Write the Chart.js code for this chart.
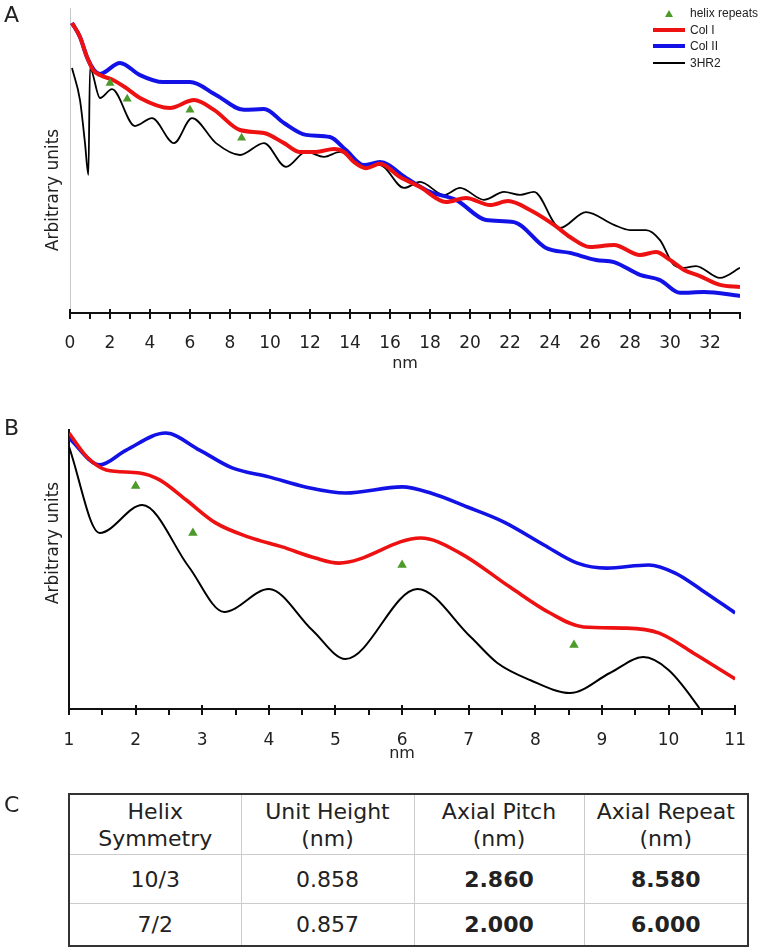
<!DOCTYPE html>
<html>
<head>
<meta charset="utf-8">
<script src="https://cdn.jsdelivr.net/npm/chart.js@4.4.1/dist/chart.umd.min.js"></script>
<style>
  body { margin: 0; background: #fff; }
  #page { position: relative; width: 759px; height: 950px; font-family: "DejaVu Sans", sans-serif; color: #222; }
  canvas { position: absolute; left: 0; }
  .panel { position: absolute; left: 4px; font-size: 22px; line-height: 22px; }
  #legendA { position: absolute; left: 653px; top: 5px; font-family: "Liberation Sans", Arial, sans-serif; font-size: 12px; }
  #legendA .row { display: flex; align-items: center; height: 16.5px; }
  #legendA .sample { width: 32px; margin-right: 5px; display: flex; justify-content: center; align-items: center; }
  #tbl { position: absolute; left: 68px; top: 793px; width: 679px; table-layout: fixed; border-collapse: collapse; border: 2px solid #333; font-size: 22px; }
  #tbl td { border: 1px solid #ccc; text-align: center; vertical-align: middle; padding: 0; line-height: 27px; }
  #tbl tr:first-child td { height: 59px; }
  #tbl tr:nth-child(2) td { height: 48px; }
  #tbl tr:nth-child(3) td { height: 41px; }
  #tbl .b { font-weight: bold; }
</style>
</head>
<body>
<div id="page">
  <canvas id="chartA" width="759" height="385" style="top:0"></canvas>
  <canvas id="chartB" width="759" height="385" style="top:385px"></canvas>
  <div class="panel" style="top:4px">A</div>
  <div class="panel" style="top:417px">B</div>
  <div class="panel" style="top:794px">C</div>
  <div id="legendA"></div>
  <table id="tbl"></table>
</div>
<script>
// helix repeat positions (nm)
const helixNm = [2.0, 2.86, 6.0, 8.58];
const helixValA = [75.4, 70.2, 66.6, 57.4];
const helixValB = [79.9, 63.1, 51.6, 22.9];

// panel A, 0 - 33.5 nm
const colINmA = [0.1, 0.5, 0.85, 1.15, 1.5, 2.15, 2.8, 3.5, 5.0, 6.2, 7.2, 8.5, 9.7, 10.7, 11.5, 12.3, 13.2, 13.7, 14.2, 14.8, 15.5, 16.5, 17.5, 18.8, 19.8, 21.0, 21.9, 23.0, 24.2, 25.0, 26.0, 27.2, 28.5, 29.3, 30.0, 30.7, 31.5, 32.5, 33.5];
const colIValA = [95.1, 90.5, 83.9, 79.7, 78.0, 76.4, 73.8, 70.5, 67.2, 69.8, 66.6, 60.0, 59.0, 55.7, 52.8, 52.8, 53.8, 52.8, 49.5, 47.5, 48.9, 44.6, 41.3, 36.4, 37.7, 35.4, 36.7, 33.8, 28.9, 24.9, 21.6, 22.3, 19.0, 20.0, 17.4, 14.1, 12.1, 9.2, 8.5];

const colIINmA = [0.1, 0.5, 0.85, 1.2, 1.5, 2.5, 3.5, 4.65, 6.0, 7.3, 8.7, 9.7, 10.7, 11.8, 13.0, 13.8, 14.7, 15.5, 16.8, 18.0, 19.3, 20.8, 22.2, 23.8, 25.0, 26.3, 27.2, 28.5, 29.5, 30.5, 31.7, 33.5];
const colIIValA = [95.1, 90.5, 83.9, 79.7, 78.4, 82.0, 78.0, 75.7, 75.7, 71.5, 66.6, 66.9, 62.3, 58.4, 57.7, 53.4, 48.5, 49.5, 44.3, 39.7, 37.1, 30.5, 29.8, 21.3, 19.7, 17.4, 16.7, 12.5, 10.8, 6.6, 6.9, 5.6];

const hr2NmA = [0.1, 0.5, 0.75, 0.92, 1.0, 1.5, 2.1, 3.25, 4.1, 5.2, 6.1, 7.3, 8.5, 9.7, 10.8, 11.8, 12.7, 13.5, 14.7, 15.5, 16.7, 17.5, 18.7, 19.5, 20.7, 21.7, 22.5, 23.2, 24.5, 25.8, 27.2, 28.0, 28.8, 29.5, 30.2, 30.7, 31.3, 32.5, 33.5];
const hr2ValA = [80.3, 69.8, 55.7, 45.3, 80.3, 70.5, 73.4, 61.3, 63.9, 55.7, 63.9, 55.7, 51.8, 55.7, 47.9, 52.8, 51.2, 52.8, 48.5, 48.5, 41.0, 43.0, 38.7, 41.0, 37.1, 39.7, 38.7, 39.7, 27.9, 33.1, 28.9, 27.2, 27.2, 23.9, 15.7, 14.8, 15.4, 11.5, 14.8];

// panel B, 1 - 11 nm
const colINmB = [1.0, 1.27, 1.56, 2.06, 2.36, 2.76, 3.2, 3.7, 4.2, 4.7, 5.05, 6.28, 6.87, 7.62, 8.22, 8.72, 9.37, 9.86, 10.37, 11.0];
const colIValB = [98.9, 90.3, 85.7, 84.6, 82.1, 74.9, 66.7, 61.6, 58.1, 54.1, 52.3, 61.3, 55.9, 43.7, 34.4, 29.4, 29.0, 27.2, 20.1, 10.8];

const colIINmB = [1.0, 1.46, 1.86, 2.45, 2.96, 3.45, 4.0, 4.55, 5.15, 6.0, 6.43, 6.98, 7.53, 8.13, 8.63, 9.07, 9.7, 10.1, 10.5, 11.0];
const colIIValB = [97.1, 87.5, 92.8, 98.9, 92.8, 86.4, 83.2, 79.6, 77.4, 79.6, 77.4, 72.4, 67.0, 58.8, 52.3, 50.5, 51.6, 48.7, 42.6, 34.4];

const hr2NmB = [1.0, 1.46, 2.1, 2.8, 3.33, 4.0, 4.65, 5.15, 6.23, 7.03, 7.43, 7.92, 8.52, 9.12, 9.62, 10.0, 10.45, 10.6];
const hr2ValB = [94.0, 63.1, 73.1, 50.9, 34.8, 43.0, 28.3, 17.9, 43.0, 25.8, 16.5, 10.4, 5.7, 12.9, 18.6, 14.0, 0.7, -5.0];

// panel C
const tableHead = ['Helix<br>Symmetry', 'Unit Height<br>(nm)', 'Axial Pitch<br>(nm)', 'Axial Repeat<br>(nm)'];
const tableRows = [
    ['10/3', '0.858', '2.860', '8.580'],
    ['7/2', '0.857', '2.000', '6.000']
];
const tableColW = [172, 173, 170, 164];

const RED = '#ee1111', BLUE = '#1212e6', BLACK = '#000000', GREEN = '#4c9a2a';

Chart.defaults.font.family = '"DejaVu Sans", sans-serif';
Chart.defaults.color = '#222';

const pts = (xs, ys) => xs.map((x, i) => ({ x: x, y: ys[i] }));

// axis tick marks: long ones for labelled ticks, short ones in between
const tickMarks = {
    id: 'tickMarks',
    afterDraw(chart) {
        const sc = chart.scales.x;
        const ctx = chart.ctx;
        const y0 = chart.chartArea.bottom + 1;
        ctx.save();
        ctx.strokeStyle = '#111';
        ctx.lineWidth = 2;
        sc.ticks.forEach((t, i) => {
            const px = Math.round(sc.getPixelForTick(i));
            const major = t.label !== '';
            ctx.beginPath();
            ctx.moveTo(px, major ? y0 - 5 : y0);
            ctx.lineTo(px, y0 + 5);
            ctx.stroke();
        });
        ctx.restore();
    }
};

// rotated y title
const sideTitle = {
    id: 'sideTitle',
    afterDraw(chart, args, opts) {
        const ctx = chart.ctx;
        ctx.save();
        ctx.translate(opts.x, opts.y);
        ctx.rotate(-Math.PI / 2);
        ctx.font = '17px "DejaVu Sans", sans-serif';
        ctx.fillStyle = '#222';
        ctx.textAlign = 'center';
        ctx.textBaseline = 'middle';
        ctx.fillText(opts.text, 0, 0);
        ctx.restore();
    }
};

function lineSet(label, data, color, width) {
    return {
        label: label, data: data, borderColor: color, backgroundColor: color,
        borderWidth: width, pointRadius: 0, fill: false,
        cubicInterpolationMode: 'monotone'
    };
}

function helixSet(data, r) {
    return {
        label: 'helix repeats', data: data, showLine: false,
        pointStyle: 'triangle', pointRadius: r, pointBorderWidth: 0,
        backgroundColor: GREEN, borderColor: GREEN
    };
}

function makeChart(id, cfg) {
    return new Chart(document.getElementById(id), {
        type: 'line',
        data: { datasets: cfg.datasets },
        options: {
            responsive: false,
            animation: false,
            layout: { padding: { left: 0, right: cfg.padRight, top: cfg.padTop, bottom: 0 } },
            plugins: {
                legend: { display: false },
                tooltip: { enabled: false },
                sideTitle: { text: 'Arbitrary units', x: cfg.titleX, y: cfg.titleY }
            },
            scales: {
                x: {
                    type: 'linear', min: cfg.xMin, max: cfg.xMax,
                    grid: { display: false },
                    border: { display: true, color: '#111', width: 2 },
                    ticks: {
                        stepSize: cfg.step, autoSkip: false, maxRotation: 0,
                        padding: cfg.tickPad, color: '#222', font: { size: 17 },
                        callback: cfg.tickLabel
                    },
                    title: { display: true, text: 'nm', color: '#222', font: { size: 16 }, padding: { top: 0, bottom: cfg.nmPad } },
                    afterFit: (s) => { s.height = cfg.xHeight; }
                },
                y: {
                    min: 0, max: 100,
                    grid: { display: false },
                    ticks: { display: false },
                    border: { display: true, color: cfg.yColor, width: cfg.yWidth },
                    afterFit: (s) => { s.width = cfg.yAxisWidth; }
                }
            }
        },
        plugins: [tickMarks, sideTitle]
    });
}

const chartA = makeChart('chartA', {
    datasets: [
        helixSet(pts(helixNm, helixValA), 5.2),
        lineSet('Col I', pts(colINmA, colIValA), RED, 4),
        lineSet('Col II', pts(colIINmA, colIIValA), BLUE, 4),
        lineSet('3HR2', pts(hr2NmA, hr2ValA), BLACK, 1.8)
    ],
    xMin: 0, xMax: 33.5, step: 1,
    tickLabel: (v) => (v % 2 === 0 ? v : ''),
    padRight: 19, padTop: 8, xHeight: 72, tickPad: 12, nmPad: 11.4,
    yAxisWidth: 70, yColor: '#c8c8c8', yWidth: 1,
    titleX: 54, titleY: 190
});

makeChart('chartB', {
    datasets: [
        helixSet(pts(helixNm, helixValB), 5.5),
        lineSet('Col I', pts(colINmB, colIValB), RED, 3.6),
        lineSet('Col II', pts(colIINmB, colIIValB), BLUE, 3.6),
        lineSet('3HR2', pts(hr2NmB, hr2ValB), BLACK, 2)
    ],
    xMin: 1, xMax: 11, step: 0.5,
    tickLabel: (v) => (Number.isInteger(v) ? v : ''),
    padRight: 21, padTop: 45, xHeight: 61, tickPad: 13, nmPad: 7,
    yAxisWidth: 69, yColor: '#111', yWidth: 2,
    titleX: 54, titleY: 158
});

// legend for panel A, built from its datasets
const legendA = document.getElementById('legendA');
chartA.data.datasets.forEach(ds => {
    const row = document.createElement('div');
    row.className = 'row';
    const sample = document.createElement('div');
    sample.className = 'sample';
    const mark = document.createElement('div');
    if (ds.showLine === false) {
        mark.style.cssText = 'width:0;height:0;border-left:4px solid transparent;border-right:4px solid transparent;border-bottom:7px solid ' + ds.backgroundColor;
    } else {
        mark.style.cssText = 'width:32px;height:' + Math.round(ds.borderWidth) + 'px;background:' + ds.borderColor;
    }
    sample.appendChild(mark);
    const txt = document.createElement('span');
    txt.textContent = ds.label;
    row.appendChild(sample);
    row.appendChild(txt);
    legendA.appendChild(row);
});

// table C
const tbl = document.getElementById('tbl');
let html = '<colgroup>' + tableColW.map(w => '<col style="width:' + w + 'px">').join('') + '</colgroup>';
html += '<tr>' + tableHead.map(h => '<td>' + h + '</td>').join('') + '</tr>';
tableRows.forEach(r => {
    html += '<tr>' + r.map((c, i) => '<td' + (i >= 2 ? ' class="b"' : '') + '>' + c + '</td>').join('') + '</tr>';
});
tbl.innerHTML = html;
</script>
</body>
</html>
